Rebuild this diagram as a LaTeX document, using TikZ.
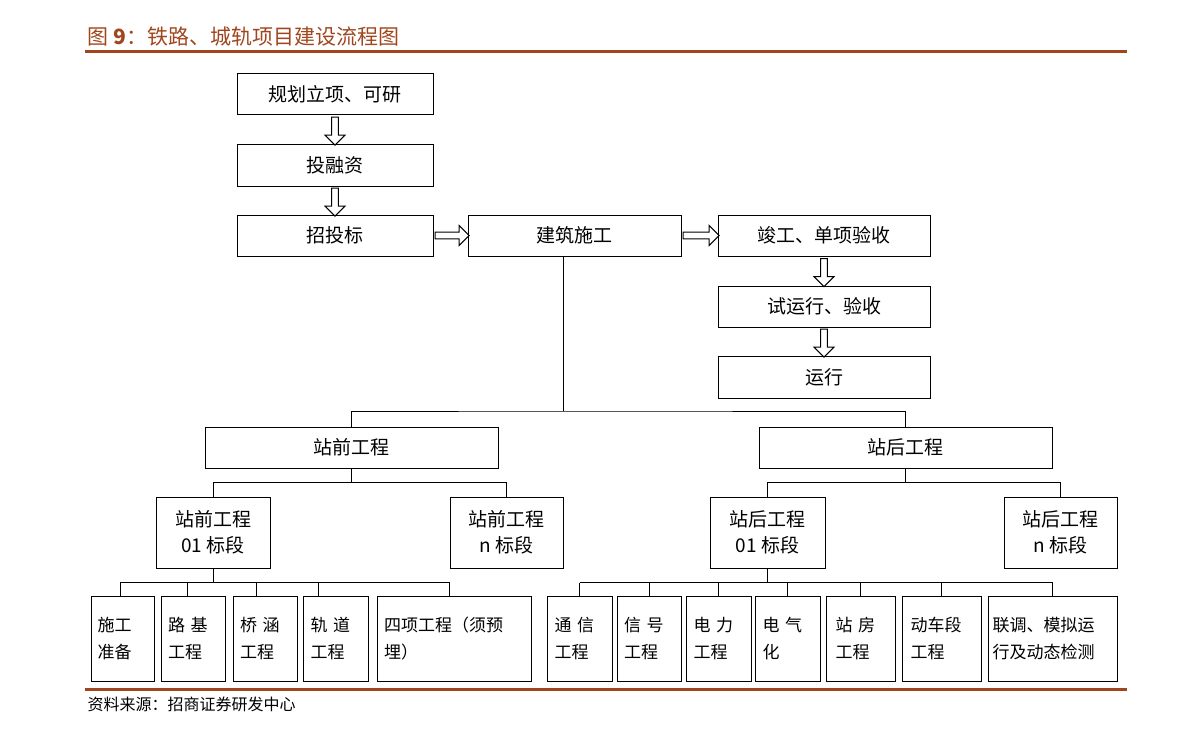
\documentclass[tikz,border=0pt]{standalone}
\usepackage{fontspec}
\setmainfont{Noto Sans CJK SC}
\usetikzlibrary{shapes.arrows, calc}
\definecolor{titlebrown}{HTML}{A0461E}
\newcommand{\FlowBox}[6]{\node[#1, minimum width = #4 - #2, minimum height = #5 - #3] (#6) at ({(#2 + #4)/2}, {(#3 + #5)/2})}

\begin{document}
\begin{tikzpicture}[x = 1pt, y = -1pt]
	\tikzset{BoxStyle/.style = {draw, line width = 1pt, inner sep = 0pt, font = \fontsize{19}{26}\selectfont}}
	\tikzset{SmallBoxStyle/.style = {draw, line width = 1pt, inner sep = 0pt, font = \fontsize{17}{27}\selectfont, align = left}}
	\tikzset{LinkStyle/.style = {line width = 1pt}}
	\tikzset{HollowStyle/.style = {shape = single arrow, draw, fill = white, line width = 1pt, minimum height = 28pt, minimum width = 20pt, single arrow head extend = 5pt, inner sep = 2pt}}
	\useasboundingbox (0, 0) rectangle (1190, 733);
	% title and rules
	\node[anchor = west, text = titlebrown, font = \fontsize{21}{24}\selectfont] (title) at (84, 37) {图\ \textbf{9}：铁路、城轨项目建设流程图};
	\draw[titlebrown, line width = 3pt] (85, 52) -- (1127, 52);
	\draw[titlebrown, line width = 3pt] (85, 689) -- (1127, 689);
	\node[anchor = west, font = \fontsize{16}{18}\selectfont] (source) at (84, 704) {资料来源：招商证券研发中心};
	% main flow
	\FlowBox{BoxStyle}{237}{74}{433}{115}{plan} {规划立项、可研};
	\FlowBox{BoxStyle}{237}{144}{433}{186}{fund} {投融资};
	\FlowBox{BoxStyle}{237}{215}{433}{256}{bid} {招投标};
	\FlowBox{BoxStyle}{468}{215}{681}{256}{build} {建筑施工};
	\FlowBox{BoxStyle}{718}{215}{930}{256}{accept} {竣工、单项验收};
	\FlowBox{BoxStyle}{718}{286}{930}{327}{trial} {试运行、验收};
	\FlowBox{BoxStyle}{718}{356}{930}{398}{run} {运行};
	\node[HollowStyle, rotate = -90] (a1) at ($(plan.south)!0.5!(fund.north)$) {};
	\node[HollowStyle, rotate = -90] (a2) at ($(fund.south)!0.5!(bid.north)$) {};
	\node[HollowStyle, minimum height = 34pt] (a3) at ($(bid.east)!0.5!(build.west)$) {};
	\node[HollowStyle, minimum height = 36pt] (a4) at ($(build.east)!0.5!(accept.west)$) {};
	\node[HollowStyle, rotate = -90] (a5) at ($(accept.south)!0.5!(trial.north)$) {};
	\node[HollowStyle, rotate = -90] (a6) at ($(trial.south)!0.5!(run.north)$) {};
	% works
	\FlowBox{BoxStyle}{205}{427}{498}{468}{front} {站前工程};
	\FlowBox{BoxStyle}{759}{427}{1052}{468}{back} {站后工程};
	\FlowBox{BoxStyle, align = center}{156}{497}{270}{568}{front01} {站前工程\\01 标段};
	\FlowBox{BoxStyle, align = center}{450}{497}{563}{568}{frontn} {站前工程\\n 标段};
	\FlowBox{BoxStyle, align = center}{710}{497}{825}{568}{back01} {站后工程\\01 标段};
	\FlowBox{BoxStyle, align = center}{1004}{497}{1117}{568}{backn} {站后工程\\n 标段};
	\coordinate (j1) at (563, 411);
	\draw[LinkStyle] (j1 |- build.south) -- (j1);
	\draw[LinkStyle] (front.north) |- (j1) -| (back.north);
	\draw[LinkStyle] (front.south) -- ++(0, 14) coordinate (j2);
	\draw[LinkStyle] (front01.north) |- (j2) -| (frontn.north);
	\draw[LinkStyle] (back.south) -- ++(0, 14) coordinate (j3);
	\draw[LinkStyle] (back01.north) |- (j3) -| (backn.north);
	% items
	\FlowBox{SmallBoxStyle, text width = 50}{91}{596}{154}{681}{f1} {施工\\准备};
	\FlowBox{SmallBoxStyle, text width = 50}{161}{596}{225}{681}{f2} {路 基\\工程};
	\FlowBox{SmallBoxStyle, text width = 50}{233}{596}{297}{681}{f3} {桥 涵\\工程};
	\FlowBox{SmallBoxStyle, text width = 50}{303}{596}{368}{681}{f4} {轨 道\\工程};
	\FlowBox{SmallBoxStyle, text width = 140}{377}{596}{531}{681}{f5} {四项工程（须预\\埋）};
	\FlowBox{SmallBoxStyle, text width = 50}{547}{596}{612}{681}{b1} {通 信\\工程};
	\FlowBox{SmallBoxStyle, text width = 50}{617}{596}{681}{681}{b2} {信 号\\工程};
	\FlowBox{SmallBoxStyle, text width = 50}{686}{596}{751}{681}{b3} {电 力\\工程};
	\FlowBox{SmallBoxStyle, text width = 50}{755}{596}{820}{681}{b4} {电 气\\化};
	\FlowBox{SmallBoxStyle, text width = 50}{826}{596}{895}{681}{b5} {站 房\\工程};
	\FlowBox{SmallBoxStyle, text width = 62}{902}{596}{981}{681}{b6} {动车段\\工程};
	\FlowBox{SmallBoxStyle, text width = 120}{988}{596}{1117}{681}{b7} {联调、模拟运\\行及动态检测};
	\draw[LinkStyle] (front01.south) -- ++(0, 14) coordinate (j4);
	\foreach \x in {120, 187, 256, 318, 449}
		\draw[LinkStyle] (\x, 596) -- (\x, 582);
	\draw[LinkStyle] (120, 582) -- (449, 582);
	\draw[LinkStyle] (back01.south) -- ++(0, 14) coordinate (j5);
	\foreach \k in {b1, b2, b3, b4, b5, b6, b7}
		\draw[LinkStyle] (\k.north) -- (\k.north |- j5);
	\draw[LinkStyle] (b1.north |- j5) -- (b7.north |- j5);
\end{tikzpicture}
\end{document}
